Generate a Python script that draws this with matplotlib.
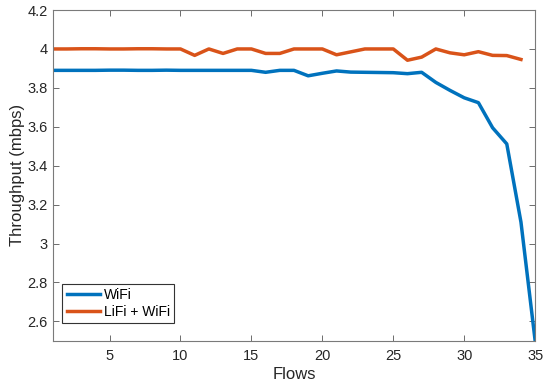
import numpy as np
import matplotlib.pyplot as plt
from matplotlib.ticker import FuncFormatter

# ----------------------------
# Dados
# ----------------------------
flows = list(range(1, 36))

wifi = [3.89, 3.89, 3.89, 3.89, 3.891, 3.891, 3.89, 3.89, 3.891, 3.89,
        3.89, 3.89, 3.89, 3.89, 3.89, 3.88, 3.89, 3.89, 3.862, 3.875,
        3.887, 3.881, 3.88, 3.879, 3.878, 3.873, 3.88, 3.828, 3.787, 3.749,
        3.724, 3.595, 3.512, 3.11, 2.5]

lifi_flows = list(range(1, 35))
lifi_wifi = [4.0, 4.0, 4.001, 4.001, 4.0, 4.0, 4.001, 4.001, 4.0, 4.0,
             3.967, 4.0, 3.977, 4.0, 4.0, 3.977, 3.977, 4.0, 4.0, 4.0,
             3.97, 3.985, 4.0, 4.0, 4.0, 3.942, 3.958, 4.0, 3.98, 3.97,
             3.986, 3.967, 3.966, 3.946]

plt.rcParams['font.family'] = ['Liberation Sans', 'DejaVu Sans']

fig = plt.figure(figsize=(5.5, 3.86), dpi=100)
ax = fig.add_axes([0.096, 0.117, 0.877, 0.857])

ax.plot(flows, wifi, color='#0072BD', lw=2.5, label='WiFi')
ax.plot(lifi_flows, lifi_wifi, color='#D95319', lw=2.5, label='LiFi + WiFi')

ax.set_xlim(1, 35)
ax.set_ylim(2.5, 4.2)
ax.set_xticks([5, 10, 15, 20, 25, 30, 35])
ax.set_yticks(np.arange(2.6, 4.21, 0.2))
ax.yaxis.set_major_formatter(FuncFormatter(lambda v, p: f"{v:g}" if abs(v - round(v)) > 1e-6 else f"{round(v)}"))

ax.tick_params(direction='in', top=True, right=True, length=4, width=0.6,
               color='#555555', labelsize=10.5, labelcolor='#262626')
ax.tick_params(axis='x', pad=6)
for s in ax.spines.values():
    s.set_color('#7a7a7a')
    s.set_linewidth(0.8)

ax.set_xlabel('Flows', fontsize=12, color='#262626', labelpad=3)
ax.set_ylabel('Throughput (mbps)', fontsize=12, color='#262626', labelpad=2)

leg = ax.legend(loc='lower left', bbox_to_anchor=(0.02, 0.053), fontsize=10,
                fancybox=False, framealpha=1, edgecolor='#333333',
                handlelength=2.4, borderpad=0.3, labelspacing=0.2,
                handletextpad=0.3, borderaxespad=0)
leg.get_frame().set_linewidth(0.8)

plt.savefig('out.png', dpi=100)
plt.close()
